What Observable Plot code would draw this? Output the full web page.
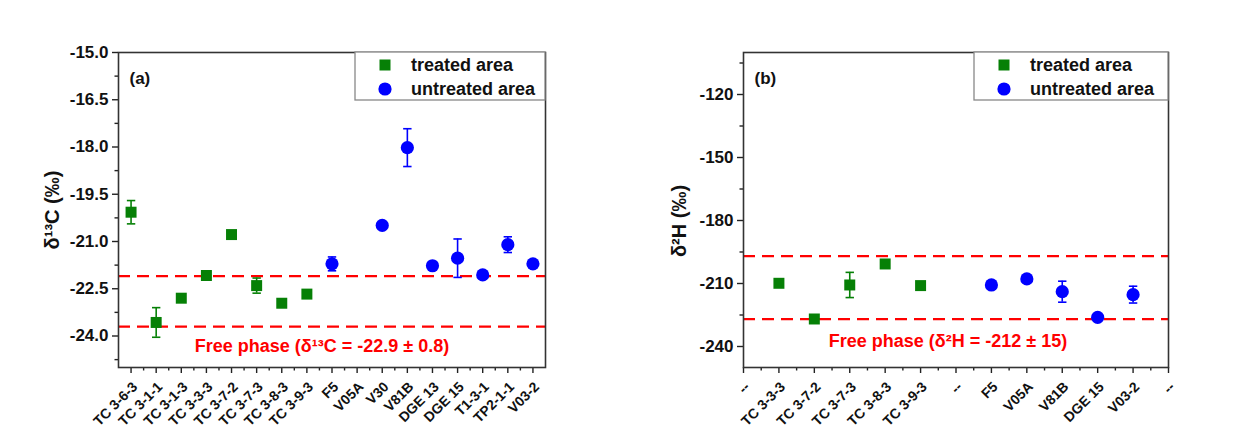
<!DOCTYPE html>
<html>
<head>
<meta charset="utf-8">
<script src="https://cdn.jsdelivr.net/npm/d3@7"></script>
<script src="https://cdn.jsdelivr.net/npm/@observablehq/plot@0.6"></script>
<style>
  html, body { margin: 0; padding: 0; background: #fff; }
  #wrap { display: flex; width: 1244px; height: 435px; overflow: hidden; }
  svg { font-family: "Liberation Sans", Arial, sans-serif; }
</style>
</head>
<body>
<div id="wrap"></div>
<script>
// ---- Panel (a): δ13C ----
const catsA = ["TC 3-6-3","TC 3-1-1","TC 3-1-3","TC 3-3-3","TC 3-7-2","TC 3-7-3","TC 3-8-3","TC 3-9-3",
               "F5","V05A","V30","V81B","DGE 13","DGE 15","T1-3-1","TP2-1-1","V03-2"];
const treatedA_names = ["TC 3-6-3","TC 3-1-1","TC 3-1-3","TC 3-3-3","TC 3-7-2","TC 3-7-3","TC 3-8-3","TC 3-9-3"];
const treatedA_vals  = [-20.07, -23.57, -22.80, -22.08, -20.78, -22.40, -22.96, -22.67];
const treatedA_err   = [0.37, 0.47, 0.08, 0.08, 0.08, 0.24, 0.08, 0.08];
const untreatedA_names = ["F5","V30","V81B","DGE 13","DGE 15","T1-3-1","TP2-1-1","V03-2"];
const untreatedA_vals  = [-21.71, -20.49, -18.02, -21.77, -21.53, -22.06, -21.10, -21.71];
const untreatedA_err   = [0.22, 0.05, 0.60, 0.05, 0.61, 0.05, 0.25, 0.05];
const freeA = [-22.1, -23.7];
const yTicksA = [-15.0, -16.5, -18.0, -19.5, -21.0, -22.5, -24.0];
const yMinorA = [-15.75, -17.25, -18.75, -20.25, -21.75, -23.25, -24.75];

// ---- Panel (b): δ2H ----
const catsB = ["--","TC 3-3-3","TC 3-7-2","TC 3-7-3","TC 3-8-3","TC 3-9-3","--","F5","V05A","V81B","DGE 15","V03-2","--"];
const treatedB_idx  = [1, 2, 3, 4, 5];
const treatedB_vals = [-209.9, -226.9, -210.7, -200.7, -211.0];
const treatedB_err  = [1.0, 1.0, 6.0, 1.0, 1.0];
const untreatedB_idx  = [7, 8, 9, 10, 11];
const untreatedB_vals = [-210.7, -207.8, -213.9, -226.1, -215.3];
const untreatedB_err  = [1.5, 1.5, 5.0, 1.0, 4.0];
const freeB = [-197, -227];
const yTicksB = [-120, -150, -180, -210, -240];
const yMinorB = [-105, -135, -165, -195, -225];

const GREEN = "#068006", BLUE = "#0000ff", RED = "#ff0000", INK = "#222";
const FONT = "'Liberation Sans', Arial, sans-serif";

const capSymbol = { draw(ctx) { ctx.moveTo(-4.2, 0); ctx.lineTo(4.2, 0); } };

function rows(idx, vals, errs) {
  return idx.map((i, k) => ({ i, v: vals[k], lo: vals[k] - errs[k], hi: vals[k] + errs[k] }));
}

function panel(cfg) {
  const { W, H, mL, mR, mT, mB, xDomain, xTicks, xMinor, cats, yDomain, yTicks, yMinor, yFmt,
          treated, untreated, free, ylabel, ylabelDy, tag, freeText, freeDx, freeDy } = cfg;
  const series = [
    { d: treated, c: GREEN, sym: "square", r: 6.2 },
    { d: untreated, c: BLUE, sym: "circle", r: 6.6 }
  ];
  const marks = [
    Plot.ruleY(free, { y: d => d, stroke: RED, strokeWidth: 2.3, strokeDasharray: "12,7" }),
    Plot.axisY({ ticks: yTicks, tickFormat: yFmt, tickSize: 6, tickPadding: 4,
                 stroke: INK, strokeWidth: 1.4, fill: "#111", label: null }),
    Plot.axisY({ ticks: yMinor, tickFormat: () => "", tickSize: 3.5, stroke: INK, strokeWidth: 1.4, label: null }),
    Plot.axisX({ ticks: xTicks, tickFormat: i => cats[i], tickSize: 6, tickPadding: 0, tickRotate: -45,
                 stroke: INK, strokeWidth: 1.4, fill: "#111", label: null }),
    Plot.axisX({ ticks: xMinor, tickFormat: () => "", tickSize: 3.5, stroke: INK, strokeWidth: 1.4, label: null }),
    Plot.frame({ stroke: "#333", strokeWidth: 1.6 }),
  ];
  for (const s of series) {
    marks.push(Plot.ruleX(s.d, { x: "i", y1: "lo", y2: "hi", stroke: s.c, strokeWidth: 1.6 }));
    marks.push(Plot.dot(s.d, { x: "i", y: "lo", symbol: capSymbol, stroke: s.c, strokeWidth: 1.6, fill: "none" }));
    marks.push(Plot.dot(s.d, { x: "i", y: "hi", symbol: capSymbol, stroke: s.c, strokeWidth: 1.6, fill: "none" }));
    marks.push(Plot.dot(s.d, { x: "i", y: "v", symbol: s.sym, r: s.r, fill: s.c, stroke: "none" }));
  }
  marks.push(Plot.text([tag], { frameAnchor: "top-left", dx: 11, dy: 19, textAnchor: "start",
                                fontSize: 17, fontWeight: "bold", fill: "#111" }));
  marks.push(Plot.text([freeText], { frameAnchor: "bottom", dx: freeDx, dy: freeDy, textAnchor: "middle",
                                     fontSize: 18, fontWeight: "bold", fill: RED }));
  marks.push(Plot.text([ylabel], { frameAnchor: "left", dx: cfg.ylabelDx, dy: ylabelDy, rotate: -90,
                                   textAnchor: "middle", lineAnchor: "middle",
                                   fontSize: 20, fontWeight: "bold", fill: "#111" }));
  const svg = Plot.plot({
    width: W, height: H, marginLeft: mL, marginRight: mR, marginTop: mT, marginBottom: mB,
    x: { type: "linear", domain: xDomain, axis: null },
    y: { type: "linear", domain: yDomain, axis: null },
    style: { fontFamily: FONT, fontWeight: "bold", background: "transparent", overflow: "visible" },
    marks
  });
  const S = d3.select(svg);
  // Tick label typography (and offset of rotated x labels, as in the original)
  S.selectAll("text").filter(function () {
    const p = this.closest("g[aria-label]");
    return p && /tick label/.test(p.getAttribute("aria-label")) && this.textContent !== "";
  }).each(function () {
    const isX = /x-axis/.test(this.closest("g[aria-label]").getAttribute("aria-label"));
    const t = d3.select(this).attr("font-size", isX ? 14 : 17).attr("font-weight", "bold").attr("font-family", FONT);
    if (isX) {
      const tr = t.attr("transform") || "";
      t.attr("transform", "translate(4,11) " + tr);
    }
  });
  // Legend (layout overlay)
  const lx = W - mR - cfg.legW, ly = mT;
  const g = S.append("g").attr("font-family", FONT).attr("text-anchor", "start");
  g.append("rect").attr("x", lx).attr("y", ly).attr("width", cfg.legW).attr("height", 48)
    .attr("fill", "#fff").attr("stroke", "#888").attr("stroke-width", 1.3);
  g.append("rect").attr("x", lx + 30 - 5.5).attr("y", ly + 13 - 5.5).attr("width", 11).attr("height", 11).attr("fill", GREEN);
  g.append("circle").attr("cx", lx + 30).attr("cy", ly + 37).attr("r", 6.6).attr("fill", BLUE);
  g.append("text").attr("x", lx + 56).attr("y", ly + 13).attr("dy", "0.35em").attr("font-size", 18)
    .attr("font-weight", "bold").attr("fill", "#111").attr("text-anchor", "start").text("treated area");
  g.append("text").attr("x", lx + 56).attr("y", ly + 37).attr("dy", "0.35em").attr("font-size", 18)
    .attr("font-weight", "bold").attr("fill", "#111").attr("text-anchor", "start").text("untreated area");
  return svg;
}

const hy = f => v => f(v).replace("\u2212", "-");
const idxOf = name => catsA.indexOf(name);
const svgA = panel({
  W: 622, H: 435, mL: 118, mR: 77, mT: 52, mB: 68,
  xDomain: [-0.5, catsA.length - 0.5],
  xTicks: d3.range(catsA.length),
  xMinor: d3.range(catsA.length - 1).map(i => i + 0.5),
  cats: catsA,
  yDomain: [-25, -15], yTicks: yTicksA, yMinor: yMinorA, yFmt: hy(d3.format(".1f")),
  treated: rows(treatedA_names.map(idxOf), treatedA_vals, treatedA_err),
  untreated: rows(untreatedA_names.map(idxOf), untreatedA_vals, untreatedA_err),
  free: freeA,
  ylabel: "δ¹³C (‰)", ylabelDx: -66, ylabelDy: 0,
  tag: "(a)", freeText: "Free phase (δ¹³C = -22.9 ± 0.8)", freeDx: -10, freeDy: -16,
  legW: 190
});
const svgB = panel({
  W: 622, H: 435, mL: 121, mR: 76, mT: 52, mB: 68,
  xDomain: [0, catsB.length - 1],
  xTicks: d3.range(catsB.length),
  xMinor: d3.range(catsB.length - 1).map(i => i + 0.5),
  cats: catsB,
  yDomain: [-250, -100], yTicks: yTicksB, yMinor: yMinorB, yFmt: hy(d3.format("d")),
  treated: rows(treatedB_idx, treatedB_vals, treatedB_err),
  untreated: rows(untreatedB_idx, untreatedB_vals, untreatedB_err),
  free: freeB,
  ylabel: "δ²H (‰)", ylabelDx: -64, ylabelDy: 11,
  tag: "(b)", freeText: "Free phase (δ²H = -212 ± 15)", freeDx: -8, freeDy: -21,
  legW: 194
});
document.getElementById("wrap").append(svgA, svgB);
</script>
</body>
</html>
